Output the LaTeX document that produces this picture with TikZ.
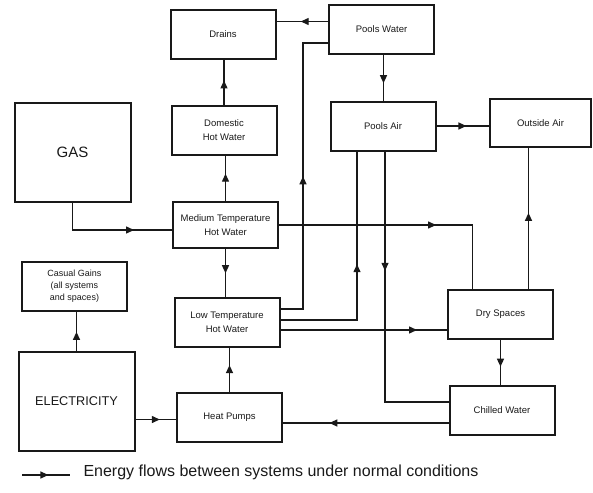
\documentclass[tikz,border=0pt]{standalone}
\usepackage{fontspec}
\setmainfont{Liberation Sans}
\usetikzlibrary{arrows.meta,positioning,calc,decorations.markings}
\definecolor{ink}{RGB}{25,25,25}
\tikzset{
  sys/.style={draw=ink,line width=2pt,minimum width=105pt,minimum height=49pt,
    inner sep=2pt,font=\fontsize{9.5}{14}\selectfont,align=center,text=ink},
  src/.style={sys,minimum width=116pt,minimum height=99pt},
  flow/.style={draw=ink,line width=1.3pt,postaction={decorate},
    decoration={markings,mark=at position #1 with {\arrow{Triangle[length=8pt,width=7pt]}}}},
  flow/.default=0.5,
}

\begin{document}
\begin{tikzpicture}[x=1pt,y=-1pt]
  \useasboundingbox (0,0) rectangle (593,492);
  % systems
  \node[sys] (drains) at (223,34.5) {Drains};
  \node[sys] (poolsW) at (381.5,29.5) {Pools Water};
  \node[sys] (dhw) at (224,130) {Domestic\\Hot Water};
  \node[src,font=\fontsize{15}{17}\selectfont] (gas) at (72.5,152.5) {GAS};
  \node[sys,minimum height=46pt] (mthw) at (225.5,225) {Medium Temperature\\Hot Water};
  \node[sys] (poolsA) at (383,126) {Pools Air};
  \node[sys,minimum width=101pt,minimum height=48pt] (outA) at (540.5,123) {Outside Air};
  \node[sys,font=\fontsize{9}{12}\selectfont] (casual) at (74.5,286.5) {Casual Gains\\(all systems\\and spaces)};
  \node[sys] (lthw) at (227,322) {Low Temperature\\Hot Water};
  \node[src,font=\fontsize{12.7}{15}\selectfont] (elec) at (76.5,401.5) {ELECTRICITY};
  \node[sys] (hp) at (229.5,417) {Heat Pumps};
  \node[sys] (dry) at (500.5,314.5) {Dry Spaces};
  \node[sys] (chilled) at (502,410) {Chilled Water};

  % energy flows
  \draw[flow=0.7] (gas.south) |- ([yshift=-5pt]mthw.west);
  \draw[flow=0.6] (mthw.north) -- (mthw.north |- dhw.south);
  \draw[flow=0.54] (dhw.north) -- (dhw.north |- drains.south);
  \draw[flow=0.53] ([yshift=8pt]poolsW.west) -- ([yshift=8pt]poolsW.west -| drains.east);
  \draw[flow=0.62] ([xshift=2pt]poolsW.south) -- ([xshift=2pt]poolsW.south |- poolsA.north);
  \draw[flow=0.57] (poolsA.east) -- (poolsA.east -| outA.west);
  \draw[flow=0.54] ([xshift=28pt]dry.north) -- ([xshift=28pt]dry.north |- outA.south);
  \draw[flow=0.61] (mthw.east) -| ([xshift=-28pt]dry.north);
  \draw[flow=0.495] ([yshift=13pt]lthw.east) -| ([xshift=-25pt,yshift=-13.5pt]poolsW.west)
    -- ([yshift=-13.5pt]poolsW.west);
  \draw[flow=0.54] ([yshift=2pt]lthw.east) -| ([xshift=-26pt]poolsA.south);
  \draw[flow=0.38] ([xshift=2pt]poolsA.south) |- ([yshift=8pt]chilled.west);
  \draw[flow=0.82] ([yshift=-8pt]lthw.east) -- ([yshift=-8pt]lthw.east -| dry.west);
  \draw[flow=0.6] (dry.south) -- (dry.south |- chilled.north);
  \draw[flow=0.72] ([yshift=-13pt]chilled.west) -- ([yshift=-13pt]chilled.west -| hp.east);
  \draw[flow=0.6] ([yshift=-18pt]elec.east) -- ([yshift=-18pt]elec.east -| hp.west);
  \draw[flow=0.6] (hp.north) -- (hp.north |- lthw.south);
  \draw[flow=0.51] (mthw.south) -- (mthw.south |- lthw.north);
  \draw[flow=0.49] (elec.north) -- (elec.north |- casual.south);

  % legend
  \coordinate (lgA) at (22,475);
  \coordinate (lgB) at (70,475);
  \draw[flow=0.55] (lgA) -- (lgB);
  \node[anchor=west,font=\fontsize{16}{18}\selectfont,text=ink] (legend) at (80,472)
    {Energy flows between systems under normal conditions};
\end{tikzpicture}
\end{document}
